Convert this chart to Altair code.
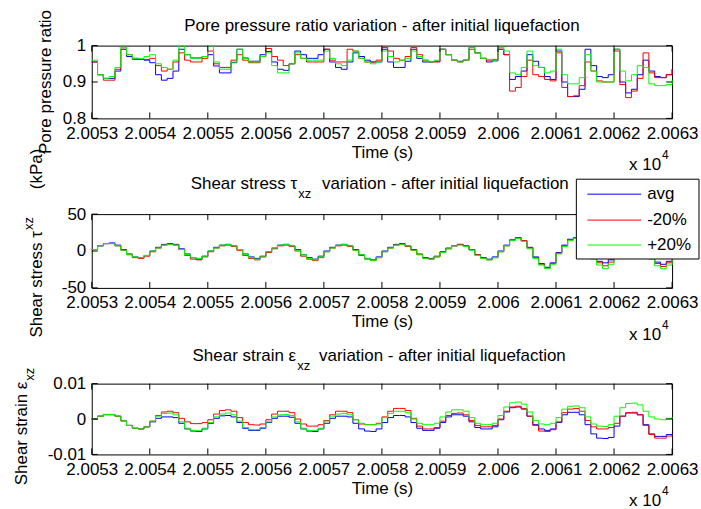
import altair as alt
import pandas as pd

FONT = "Liberation Sans"
FS = 17
T0 = 20053
T1 = 20063
times = [T0 + i / 10 for i in range(101)]
SERIES = ["avg", "-20%", "+20%"]
COLORS = ["#0000ff", "#ff0000", "#00ff00"]
x_ticks = list(range(20053, 20064))

# ---------------- Pore pressure ratio ----------------
pore_avg = [0.955, 0.92, 0.91, 0.91, 0.93, 0.99, 0.97, 0.965, 0.962, 0.96,
            0.953, 0.92, 0.905, 0.91, 0.93, 0.99, 0.975, 0.966, 0.966, 0.97,
            0.975, 0.944, 0.925, 0.925, 0.953, 0.99, 0.966, 0.957, 0.957, 0.975,
            0.984, 0.955, 0.935, 0.932, 0.95, 0.985, 0.975, 0.965, 0.965, 0.975,
            0.99, 0.955, 0.94, 0.935, 0.955, 0.98, 0.97, 0.96, 0.955, 0.955,
            0.99, 0.955, 0.94, 0.94, 0.957, 0.99, 0.965, 0.955, 0.955, 0.957,
            0.99, 0.975, 0.96, 0.957, 0.96, 0.995, 0.98, 0.965, 0.955, 0.958,
            0.99, 0.975, 0.907, 0.915, 0.93, 0.975, 0.957, 0.94, 0.915, 0.907,
            0.985, 0.9, 0.86, 0.86, 0.88, 0.99, 0.945, 0.915, 0.912, 0.92,
            0.99, 0.9, 0.87, 0.88, 0.92, 0.96, 0.93, 0.915, 0.912, 0.92,
            0.935]
pore_m20 = [0.955, 0.92, 0.905, 0.905, 0.935, 0.99, 0.975, 0.962, 0.962, 0.962,
            0.965, 0.945, 0.93, 0.935, 0.955, 0.98, 0.96, 0.955, 0.955, 0.965,
            0.985, 0.95, 0.94, 0.94, 0.96, 0.975, 0.96, 0.953, 0.953, 0.97,
            0.992, 0.97, 0.96, 0.945, 0.95, 0.975, 0.965, 0.955, 0.955, 0.955,
            0.99, 0.96, 0.955, 0.955, 0.99, 0.985, 0.965, 0.955, 0.955, 0.96,
            0.995, 0.985, 0.965, 0.96, 0.97, 0.995, 0.975, 0.96, 0.955, 0.955,
            0.99, 0.975, 0.96, 0.955, 0.96, 0.99, 0.98, 0.965, 0.96, 0.962,
            0.99, 0.975, 0.875, 0.885, 0.915, 0.96, 0.92, 0.915, 0.907, 0.903,
            0.98, 0.885, 0.86, 0.862, 0.89, 0.955, 0.93, 0.903, 0.9, 0.9,
            0.985, 0.893, 0.857, 0.875, 0.91, 0.98, 0.925, 0.912, 0.912, 0.92,
            0.935]
pore_p20 = [0.96, 0.92, 0.91, 0.915, 0.94, 0.995, 0.975, 0.965, 0.965, 0.97,
            0.975, 0.95, 0.94, 0.935, 0.96, 1.0, 0.975, 0.965, 0.965, 0.97,
            1.0, 0.955, 0.935, 0.935, 0.955, 0.99, 0.965, 0.955, 0.955, 0.97,
            0.98, 0.945, 0.925, 0.925, 0.95, 0.98, 0.965, 0.96, 0.96, 0.96,
            0.985, 0.965, 0.95, 0.945, 0.96, 0.985, 0.965, 0.955, 0.95, 0.955,
            0.985, 0.97, 0.955, 0.96, 0.965, 0.985, 0.97, 0.96, 0.955, 0.96,
            0.99, 0.975, 0.96, 0.955, 0.96, 0.995, 0.98, 0.965, 0.962, 0.96,
            0.995, 0.985, 0.925, 0.92, 0.94, 0.985, 0.945, 0.94, 0.925, 0.93,
            0.99, 0.92, 0.895, 0.895, 0.912, 0.975, 0.93, 0.9, 0.9, 0.9,
            0.99, 0.93, 0.903, 0.92, 0.945, 0.94, 0.895, 0.89, 0.89, 0.893,
            0.905]

# ---------------- Shear stress (kPa) ----------------
stress_avg = [2, 7, 10, 11, 8, 2, -4, -8, -9, -6,
              0, 5, 9, 10, 9, 3, -4, -9, -11, -7,
              0, 5, 8, 9, 7, 2, -4, -8, -10, -7,
              -1, 4, 8, 9, 7, 2, -5, -9, -11, -7,
              0, 5, 8, 9, 7, 2, -5, -10, -12, -8,
              0, 5, 9, 10, 7, 2, -4, -9, -10, -7,
              -1, 4, 7, 9, 7, 2, -5, -9, -11, -8,
              0, 8, 15, 18, 14, 5, -8, -17, -22, -16,
              -2, 8, 16, 18, 14, 4, -8, -14, -16, -12,
              -2, 8, 16, 19, 14, 4, -8, -15, -18, -14,
              -6]
stress_m20 = [2, 7, 10, 10, 7, 1, -5, -9, -10, -7,
              -1, 4, 8, 9, 8, 2, -6, -11, -12, -8,
              -1, 4, 7, 8, 6, 1, -6, -10, -12, -8,
              -2, 3, 7, 8, 6, 0, -7, -11, -13, -9,
              -1, 4, 7, 8, 6, 1, -6, -11, -13, -9,
              -1, 4, 8, 9, 6, 1, -5, -10, -11, -8,
              -2, 3, 7, 9, 7, 2, -5, -10, -12, -9,
              -1, 7, 15, 18, 14, 4, -9, -18, -23, -17,
              -3, 7, 15, 18, 14, 3, -9, -16, -20, -15,
              -3, 7, 15, 19, 14, 3, -9, -17, -21, -16,
              -7]
stress_p20 = [2, 7, 10, 10, 7, 1, -5, -8, -9, -6,
              0, 4, 8, 9, 8, 2, -5, -9, -10, -7,
              0, 4, 8, 9, 7, 2, -5, -9, -11, -8,
              -1, 4, 8, 9, 7, 1, -5, -10, -12, -8,
              -1, 4, 8, 9, 7, 1, -5, -10, -13, -9,
              -1, 4, 8, 9, 7, 1, -5, -10, -11, -8,
              -2, 3, 7, 8, 6, 1, -6, -10, -12, -9,
              -1, 7, 14, 17, 13, 3, -10, -19, -24, -18,
              -4, 6, 14, 17, 13, 2, -11, -19, -24, -18,
              -4, 6, 14, 18, 13, 2, -11, -20, -24, -19,
              -9]

# ---------------- Shear strain (in units of 1e-3) ----------------
strain_avg_e3 = [0, 0.8, 1.2, 1.2, 0.8, -0.5, -1.8, -2.6, -2.8, -2.2,
                 -0.8, 0.2, 0.6, 0.6, 0.4, -1.2, -2.8, -3.4, -3.5, -2.8,
                 -1.2, 0.2, 0.9, 1.0, 0.6, -1.0, -2.6, -3.2, -3.2, -2.6,
                 -1.0, 0.2, 0.8, 0.8, 0.5, -1.2, -2.8, -3.4, -3.5, -2.8,
                 -1.2, 0.2, 0.8, 0.8, 0.6, -1.2, -2.8, -3.4, -3.5, -2.8,
                 -1.0, 0.4, 1.0, 1.0, 0.6, -1.0, -2.6, -3.2, -3.2, -2.6,
                 -1.0, 0.6, 1.2, 1.2, 0.8, -0.8, -2.4, -2.8, -2.8, -2.2,
                 -0.2, 2.0, 3.2, 3.4, 2.8, 0.8, -1.6, -2.8, -3.2, -2.8,
                 -1.0, 1.2, 1.9, 1.9, 1.2, -1.6, -4.2, -5.4, -5.5, -5.2,
                 -2.0, 0.8, 1.7, 1.7, 1.2, -1.6, -4.2, -4.9, -4.9, -4.4,
                 -4.1]
strain_m20_e3 = [0, 0.8, 1.3, 1.3, 0.8, -0.5, -1.8, -2.6, -2.8, -2.2,
                 -0.6, 1.0, 2.0, 2.2, 1.8, 0.2, -0.8, -1.3, -1.3, -1.0,
                 -0.2, 1.4, 2.4, 2.6, 2.2, 0.4, -1.0, -1.6, -1.7, -1.4,
                 -0.2, 1.4, 2.2, 2.2, 1.8, 0.0, -1.4, -2.0, -2.0, -1.6,
                 -0.4, 1.2, 2.2, 2.2, 1.8, -0.2, -1.4, -1.6, -1.6, -1.2,
                 0.6, 2.2, 3.0, 3.0, 2.4, 0.2, -2.0, -2.8, -2.8, -2.4,
                 -0.6, 1.0, 1.6, 1.7, 1.2, -0.4, -1.8, -2.2, -2.2, -1.8,
                 0.0, 2.2, 3.4, 3.6, 3.0, 0.8, -1.8, -3.4, -3.5, -3.0,
                 -0.8, 1.8, 2.8, 3.0, 2.2, -0.4, -2.2, -2.8, -2.8, -2.4,
                 -1.2, 0.8, 1.8, 1.9, 1.2, -1.8, -4.4, -5.4, -5.4, -4.8,
                 -4.5]
strain_p20_e3 = [0, 0.8, 1.3, 1.3, 0.8, -0.5, -1.8, -2.6, -2.8, -2.2,
                 -0.6, 0.8, 1.6, 1.7, 1.2, -0.8, -2.6, -3.2, -3.3, -2.6,
                 -1.0, 0.6, 1.4, 1.7, 1.2, -0.6, -2.4, -3.0, -3.0, -2.4,
                 -0.8, 0.6, 1.2, 1.3, 1.0, -0.8, -2.6, -3.2, -3.2, -2.6,
                 -0.6, 0.8, 1.4, 1.6, 1.2, -0.2, -1.2, -1.6, -1.6, -1.4,
                 0.4, 1.6, 2.2, 2.2, 1.8, 0.0, -1.2, -1.6, -1.6, -1.2,
                 0.6, 2.0, 2.6, 2.6, 2.2, 0.4, -1.2, -1.6, -1.6, -1.2,
                 1.0, 3.4, 4.6, 4.8, 4.2, 2.0, -0.4, -1.4, -1.6, -1.2,
                 0.4, 2.8, 3.6, 3.7, 3.2, 0.6, -1.4, -2.0, -2.1, -1.6,
                 0.8, 3.2, 4.4, 4.5, 4.0, 2.2, 0.6, 0.0, -0.2, 0.2,
                 0.6]


def long_df(series_values, scale=1.0):
    rows = []
    for name, vals in zip(SERIES, series_values):
        assert len(vals) == len(times), (name, len(vals))
        for t, v in zip(times, vals):
            rows.append({"t": t, "v": v * scale, "series": name})
    return pd.DataFrame(rows)


pore_df = long_df([pore_avg, pore_m20, pore_p20])
stress_df = long_df([stress_avg, stress_m20, stress_p20])
strain_df = long_df([strain_avg_e3, strain_m20_e3, strain_p20_e3], 1e-3)

W = 582
TICK = 6
PAD_L, PAD_T, PAD_R, PAD_B = 91, 44, 28, 55
H1, H2, H3 = 73, 74, 71
xscale = alt.Scale(domain=[T0, T1], nice=False, zero=False)


def txt(s, x, y, align="center", size=FS, angle=0, baseline="alphabetic"):
    return alt.Chart(pd.DataFrame({"s": [s]})).mark_text(
        align=align, baseline=baseline, font=FONT, fontSize=size,
        color="black", angle=angle
    ).encode(text="s:N", x=alt.value(x), y=alt.value(y))


def anchor(x, y):
    # invisible element that fixes the canvas corner
    return alt.Chart(pd.DataFrame({"a": [0]})).mark_rule(
        opacity=0, strokeWidth=0.01
    ).encode(x=alt.value(x), y=alt.value(y), x2=alt.value(x), y2=alt.value(y + 0.01))


def legend_layers():
    # MATLAB-style boxed legend placed over the upper-right of panel 2
    lx0, lx1, ly0, ly1 = 486, 609, -35, 45
    rows_y = [-20, 6, 31]
    out = [alt.Chart(pd.DataFrame({"a": [0]})).mark_rect(
        fill="white", stroke="black", strokeWidth=1
    ).encode(x=alt.value(lx0), x2=alt.value(lx1), y=alt.value(ly0), y2=alt.value(ly1))]
    for name, col, ry in zip(SERIES, COLORS, rows_y):
        out.append(alt.Chart(pd.DataFrame({"a": [0]})).mark_rule(
            color=col, strokeWidth=1
        ).encode(x=alt.value(497), x2=alt.value(551), y=alt.value(ry), y2=alt.value(ry)))
        out.append(txt(name, 557, ry, align="left", baseline="middle"))
    return out


def panel(df, h, ydomain, yvalues, texts, with_legend=False):
    yscale = alt.Scale(domain=ydomain, nice=False, zero=False)
    xaxis = alt.Axis(title="Time (s)", values=x_ticks,
                     labelExpr="format(datum.value/10000, '.5~f')",
                     domain=False, ticks=False, tickSize=0, grid=False,
                     labelFlush=False, labelOverlap=False, labelBound=False,
                     labelPadding=7, labelFontSize=FS, labelFont=FONT,
                     labelColor="black", titleFont=FONT, titleFontSize=FS,
                     titleFontWeight="normal", titleColor="black",
                     titlePadding=3)
    yaxis = alt.Axis(title=None, values=yvalues, labelExpr="datum.value + ''",
                     domain=False, ticks=False, tickSize=0, grid=False,
                     labelPadding=6, labelFontSize=FS, labelFont=FONT,
                     labelColor="black", labelFlush=False, labelOverlap=False)
    color = alt.Color("series:N", scale=alt.Scale(domain=SERIES, range=COLORS),
                      legend=None)
    layers = []
    for s in SERIES:
        layers.append(
            alt.Chart(df).transform_filter(alt.datum.series == s)
            .mark_line(interpolate="step-after", strokeWidth=1)
            .encode(x=alt.X("t:Q", scale=xscale, axis=xaxis),
                    y=alt.Y("v:Q", scale=yscale, axis=yaxis),
                    color=color)
        )
    xt = pd.DataFrame({"t": x_ticks})
    yt = pd.DataFrame({"v": yvalues})
    rule = dict(color="black", strokeWidth=1)
    layers += [
        alt.Chart(xt).mark_rule(**rule).encode(
            x=alt.X("t:Q", scale=xscale, axis=xaxis), y=alt.value(h), y2=alt.value(h - TICK)),
        alt.Chart(xt).mark_rule(**rule).encode(
            x=alt.X("t:Q", scale=xscale, axis=xaxis), y=alt.value(0), y2=alt.value(TICK)),
        alt.Chart(yt).mark_rule(**rule).encode(
            y=alt.Y("v:Q", scale=yscale, axis=yaxis), x=alt.value(0), x2=alt.value(TICK)),
        alt.Chart(yt).mark_rule(**rule).encode(
            y=alt.Y("v:Q", scale=yscale, axis=yaxis), x=alt.value(W - TICK), x2=alt.value(W)),
    ]
    layers += texts
    # x 10^4 multiplier
    layers += [txt("x 10", 571, h + 52, align="right"),
               txt("4", 572, h + 41, align="left", size=12)]
    if with_legend:
        layers += legend_layers()
    return alt.layer(*layers).properties(width=W, height=h)


p1 = panel(pore_df, H1, [0.8, 1.0], [0.8, 0.9, 1.0], [
    txt("Pore pressure ratio variation - after initial liquefaction", W / 2, -15),
    txt("Pore pressure ratio", -41, H1 / 2, angle=270),
    anchor(-PAD_L, -PAD_T),
])

p2 = panel(stress_df, H2, [-50, 50], [-50, 0, 50], [
    txt("Shear stress \u03c4", 206, -25, align="right"),
    txt("xz", 207, -16, align="left", size=13),
    txt("variation - after initial liquefaction", 231, -25, align="left"),
    txt("Shear stress \u03c4", -50, 17, align="right", angle=270),
    txt("xz", -59, 16, align="left", size=13, angle=270),
    txt("(kPa)", -50, -25, align="left", angle=270),
], with_legend=True)

p3 = panel(strain_df, H3, [-0.01, 0.01], [-0.01, 0.0, 0.01], [
    txt("Shear strain \u03b5", 205, -23, align="right"),
    txt("xz", 206, -14, align="left", size=13),
    txt("variation - after initial liquefaction", 228, -23, align="left"),
    txt("Shear strain \u03b5", -65, -2, align="right", angle=270),
    txt("xz", -58, -3, align="left", size=13, angle=270),
    anchor(W + PAD_R, H3 + PAD_B),
])

chart = (
    alt.vconcat(p1, p2, p3, spacing=96, bounds="flush")
    .properties(padding=0, background="white")
    .configure_view(stroke="black", strokeWidth=1)
)

chart.save("out.html", embed_options={"renderer": "svg", "actions": False})
